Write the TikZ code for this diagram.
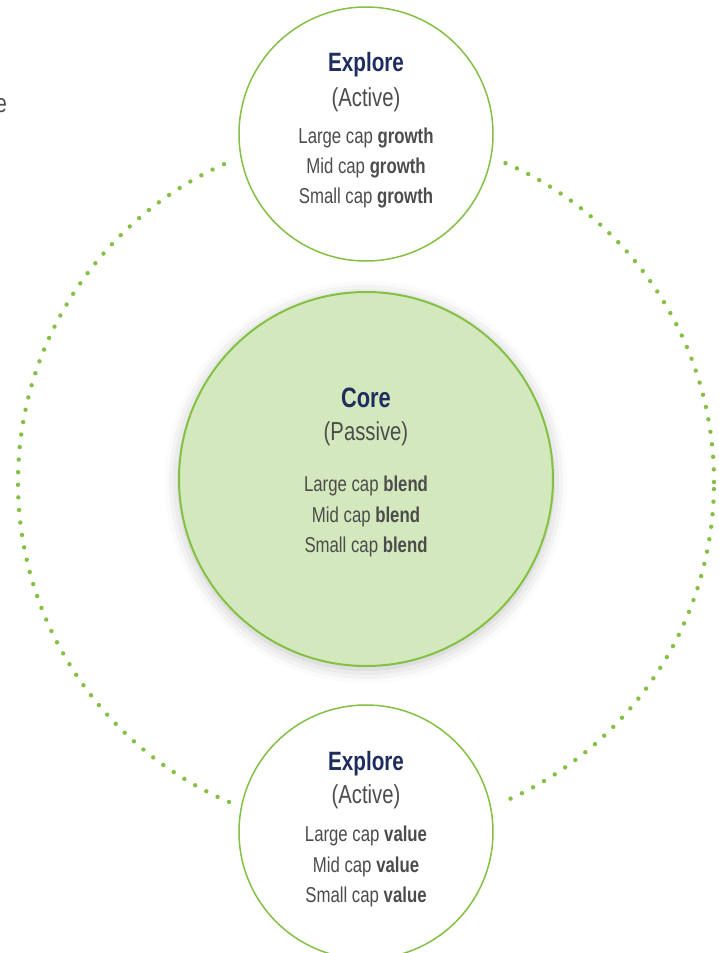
\documentclass[tikz,border=0pt]{standalone}
\usepackage{fontspec}
\setmainfont{Liberation Sans}[FakeStretch=0.78]
\usetikzlibrary{shadows.blur}

\definecolor{leaf}{HTML}{84C043}
\definecolor{leaffill}{HTML}{D3E8BC}
\definecolor{navy}{HTML}{1E2D5E}
\definecolor{textgrey}{HTML}{4C4C4C}

\tikzset{
  ring/.style={circle, draw=leaf, line width=1.5pt, fill=white, minimum size=254pt, inner sep=0pt,
    preaction={draw=white, line width=22pt}},
  corering/.style={circle, draw=leaf, line width=2pt, fill=leaffill, minimum size=374pt, inner sep=0pt,
    blur shadow={shadow xshift=0pt, shadow yshift=-3pt, shadow blur radius=14pt, shadow opacity=25}},
  orbit/.style={leaf, line width=4.4pt, line cap=round, dash pattern=on 0pt off 12.6pt},
  head/.style={anchor=base, text=navy, font=\fontsize{26.5}{30}\selectfont\bfseries},
  sub/.style={anchor=base, text=textgrey, font=\fontsize{26}{30}\selectfont},
  item/.style={anchor=base, text=textgrey, font=\fontsize{21.5}{26}\selectfont},
}

\begin{document}
\begin{tikzpicture}[x=1pt, y=-1pt]
\useasboundingbox (0,0) rectangle (718,953);

\coordinate (mid) at (366,482);
\coordinate (topc) at (366,134);
\coordinate (botc) at (366,832);
\coordinate (corec) at (366,479);

% dotted orbit
\draw[orbit] (mid) circle[radius=348pt];

% active circles
\node[ring] (top) at (topc) {};
\node[ring] (bot) at (botc) {};

% passive core
\node[corering] (core) at (corec) {};

\node[head] (topname) at (366,71) {Explore};
\node[sub] (topmode) at (366,106) {(Active)};
\foreach \sz [count=\i] in {Large,Mid,Small}
  \node[item] (topline\i) at (366,113+30*\i) {\sz{} cap \textbf{growth}};

\node[head, font=\fontsize{28}{32}\selectfont\bfseries] (corename) at (366,407) {Core};
\node[sub] (coremode) at (366,440) {(Passive)};
\foreach \sz [count=\i] in {Large,Mid,Small}
  \node[item] (coreline\i) at (366,461+30.5*\i) {\sz{} cap \textbf{blend}};

\node[head] (botname) at (366,770) {Explore};
\node[sub] (botmode) at (366,803) {(Active)};
\foreach \sz [count=\i] in {Large,Mid,Small}
  \node[item] (botline\i) at (366,811+30.5*\i) {\sz{} cap \textbf{value}};

% cut-off letter at the left edge
\node[sub, anchor=base east, inner sep=0pt] (edge) at (7,112) {e};
\end{tikzpicture}
\end{document}
